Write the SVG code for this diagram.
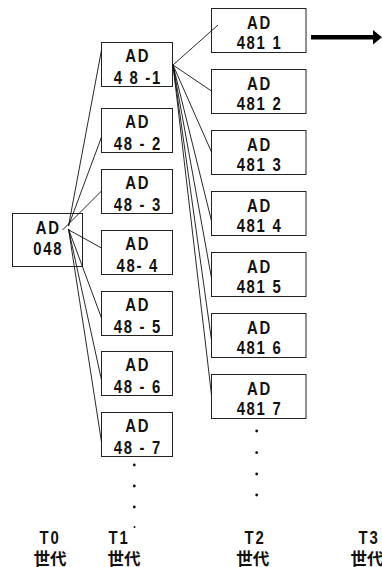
<svg xmlns="http://www.w3.org/2000/svg" width="382" height="567" viewBox="0 0 382 567">
<style>
.box{fill:#fff;stroke:#222;stroke-width:1}
.lbl{font-family:"Liberation Sans",Arial,sans-serif;font-weight:bold;font-size:17.5px;letter-spacing:2px;text-anchor:middle;fill:#111}
.cjk{font-family:"Liberation Sans","Noto Sans CJK JP",sans-serif;font-weight:bold;font-size:16.5px;text-anchor:middle;fill:#111}
.ln{stroke:#111;stroke-width:0.9;fill:none}
.dot{fill:#111}
</style>
<rect width="382" height="567" fill="#fff"/>

<g id="n048" transform="translate(12.5,213.5)">
<rect class="box" width="70" height="53"/>
<text class="lbl" transform="translate(35.8,20.5) scale(0.85,1)">AD</text>
<text class="lbl" transform="translate(35.8,41) scale(0.85,1)">048</text>
</g>

<g id="n48-1" transform="translate(101.5,42.5)">
<rect class="box" width="71" height="44"/>
<text class="lbl" transform="translate(36.3,19) scale(0.85,1)">AD</text>
<text class="lbl" transform="translate(36.3,41) scale(0.85,1)">4 8 -1</text>
</g>
<g id="n48-2" transform="translate(101.5,108.5)">
<rect class="box" width="71" height="44"/>
<text class="lbl" transform="translate(36.3,19) scale(0.85,1)">AD</text>
<text class="lbl" transform="translate(36.3,41) scale(0.85,1)">48 - 2</text>
</g>
<g id="n48-3" transform="translate(101.5,169.5)">
<rect class="box" width="71" height="44"/>
<text class="lbl" transform="translate(36.3,19) scale(0.85,1)">AD</text>
<text class="lbl" transform="translate(36.3,41) scale(0.85,1)">48 - 3</text>
</g>
<g id="n48-4" transform="translate(101.5,230.5)">
<rect class="box" width="71" height="44"/>
<text class="lbl" transform="translate(36.3,19) scale(0.85,1)">AD</text>
<text class="lbl" transform="translate(36.3,41) scale(0.85,1)">48- 4</text>
</g>
<g id="n48-5" transform="translate(101.5,291.5)">
<rect class="box" width="71" height="44"/>
<text class="lbl" transform="translate(36.3,19) scale(0.85,1)">AD</text>
<text class="lbl" transform="translate(36.3,41) scale(0.85,1)">48 - 5</text>
</g>
<g id="n48-6" transform="translate(101.5,351.5)">
<rect class="box" width="71" height="44"/>
<text class="lbl" transform="translate(36.3,19) scale(0.85,1)">AD</text>
<text class="lbl" transform="translate(36.3,41) scale(0.85,1)">48 - 6</text>
</g>
<g id="n48-7" transform="translate(101.5,412.5)">
<rect class="box" width="71" height="44"/>
<text class="lbl" transform="translate(36.3,19) scale(0.85,1)">AD</text>
<text class="lbl" transform="translate(36.3,41) scale(0.85,1)">48 - 7</text>
</g>

<g id="n4811" transform="translate(211.5,8.5)">
<rect class="box" width="94.5" height="44"/>
<text class="lbl" transform="translate(48,20) scale(0.85,1)">AD</text>
<text class="lbl" transform="translate(48,40.5) scale(0.85,1)">481 1</text>
</g>
<g id="n4812" transform="translate(211.5,69.5)">
<rect class="box" width="94.5" height="44"/>
<text class="lbl" transform="translate(48,20) scale(0.85,1)">AD</text>
<text class="lbl" transform="translate(48,40.5) scale(0.85,1)">481 2</text>
</g>
<g id="n4813" transform="translate(211.5,130.5)">
<rect class="box" width="94.5" height="44"/>
<text class="lbl" transform="translate(48,20) scale(0.85,1)">AD</text>
<text class="lbl" transform="translate(48,40.5) scale(0.85,1)">481 3</text>
</g>
<g id="n4814" transform="translate(211.5,191.5)">
<rect class="box" width="94.5" height="44"/>
<text class="lbl" transform="translate(48,20) scale(0.85,1)">AD</text>
<text class="lbl" transform="translate(48,40.5) scale(0.85,1)">481 4</text>
</g>
<g id="n4815" transform="translate(211.5,252.5)">
<rect class="box" width="94.5" height="44"/>
<text class="lbl" transform="translate(48,20) scale(0.85,1)">AD</text>
<text class="lbl" transform="translate(48,40.5) scale(0.85,1)">481 5</text>
</g>
<g id="n4816" transform="translate(211.5,313.5)">
<rect class="box" width="94.5" height="44"/>
<text class="lbl" transform="translate(48,20) scale(0.85,1)">AD</text>
<text class="lbl" transform="translate(48,40.5) scale(0.85,1)">481 6</text>
</g>
<g id="n4817" transform="translate(211.5,374.5)">
<rect class="box" width="94.5" height="44"/>
<text class="lbl" transform="translate(48,20) scale(0.85,1)">AD</text>
<text class="lbl" transform="translate(48,40.5) scale(0.85,1)">481 7</text>
</g>

<g id="connectors">
<path class="ln" d="M68.5,226 L101.5,50"/>
<path class="ln" d="M68.5,226 L101.5,137"/>
<path class="ln" d="M62.5,230 L101.5,191"/>
<path class="ln" d="M69,230 L101.5,248"/>
<path class="ln" d="M68.5,229 L101.5,318"/>
<path class="ln" d="M68.5,229 L101.5,380"/>
<path class="ln" d="M68.5,229 L101.5,442"/>
<path class="ln" d="M173,65 L218,25"/>
<path class="ln" d="M173,65 L211.5,91"/>
<path class="ln" d="M173,65 L211.5,152"/>
<path class="ln" d="M173,65 L211.5,221"/>
<path class="ln" d="M173,65 L211.5,278"/>
<path class="ln" d="M173,65 L211.5,340"/>
<path class="ln" d="M173,65 L211.5,395"/>
<path d="M311,37.3 L374,37.3" stroke="#000" stroke-width="4.5"/>
<polygon points="373,30 382,37.3 373,44.6" fill="#000"/>
</g>

<g id="dots">
<circle class="dot" cx="134.3" cy="465" r="1.4"/>
<circle class="dot" cx="134.3" cy="486" r="1.4"/>
<circle class="dot" cx="134.3" cy="507" r="1.4"/>
<circle class="dot" cx="134.5" cy="527" r="1"/>
<circle class="dot" cx="256.7" cy="431" r="1.4"/>
<circle class="dot" cx="256.7" cy="452.7" r="1.4"/>
<circle class="dot" cx="256.7" cy="474" r="1.4"/>
<circle class="dot" cx="256.7" cy="495" r="1.4"/>
</g>

<g id="labels">
<text class="lbl" transform="translate(50,544) scale(0.85,1)">T0</text>
<text class="cjk" x="50" y="564.5">世代</text>
<text class="lbl" transform="translate(119,544) scale(0.85,1)">T1</text>
<text class="cjk" x="124" y="564.5">世代</text>
<text class="lbl" transform="translate(255,544) scale(0.85,1)">T2</text>
<text class="cjk" x="252.7" y="564.5">世代</text>
<text class="lbl" transform="translate(369,544) scale(0.85,1)">T3</text>
<text class="cjk" x="367" y="564.5">世代</text>
</g>
</svg>
